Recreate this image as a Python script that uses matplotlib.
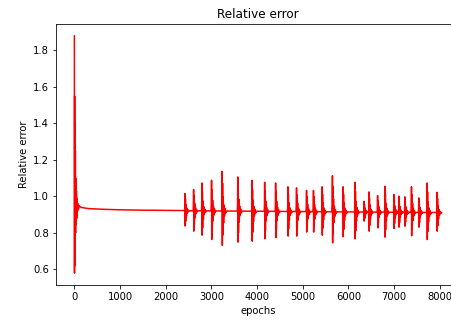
import numpy as np
import matplotlib
matplotlib.use("Agg")
import matplotlib.pyplot as plt

plt.rcParams["font.family"] = "DejaVu Sans"

# start of training: wild oscillation that settles quickly
early_epochs = [0, 3, 6, 10, 14, 18, 22, 27, 32, 38, 45, 52, 60, 70, 80, 90, 100, 120, 150]
early_values = [1.88, 0.58, 1.55, 0.62, 1.40, 0.74, 1.25, 0.80, 1.10, 0.85,
                1.03, 0.88, 0.99, 0.92, 0.96, 0.93, 0.95, 0.945, 0.94]

# slow plateau
plateau_epochs = [300, 600, 1000, 1500, 2000, 2380]
plateau_values = [0.934, 0.930, 0.927, 0.925, 0.924, 0.923]

# spike bursts later on: epoch, peak, trough
burst_epochs = [2422, 2611, 2793, 3004, 3236, 3578, 3891, 4167, 4407, 4676,
                4865, 5084, 5236, 5425, 5651, 5884, 6145, 6342, 6451, 6640,
                6800, 6996, 7105, 7236, 7382, 7542, 7724, 7942]
burst_peaks = [1.016, 1.038, 1.074, 1.089, 1.138, 1.107, 1.089, 1.078, 1.074, 1.053,
               1.047, 1.033, 1.033, 1.053, 1.114, 1.053, 1.078, 0.974, 1.025, 1.005,
               1.056, 1.011, 1.002, 0.998, 1.053, 0.992, 1.074, 1.023]
burst_troughs = [0.838, 0.810, 0.788, 0.764, 0.732, 0.750, 0.755, 0.768, 0.774, 0.783,
                 0.783, 0.805, 0.805, 0.788, 0.746, 0.779, 0.768, 0.865, 0.810, 0.828,
                 0.777, 0.825, 0.832, 0.837, 0.785, 0.832, 0.764, 0.810]
late_base_epochs = [2400, 8000]
late_base_values = [0.922, 0.912]
end_epoch = 7999

# build the polyline
xs = list(early_epochs) + list(plateau_epochs)
ys = list(early_values) + list(plateau_values)
for e, hi, lo in zip(burst_epochs, burst_peaks, burst_troughs):
    b = np.interp(e, late_base_epochs, late_base_values)
    up, dn = hi - b, b - lo
    xs += [e - 10, e - 4, e, e + 4, e + 10, e + 16, e + 24, e + 32,
           e + 42, e + 52, e + 64, e + 76, e + 100]
    ys += [b, b + 0.2 * up, b + up, b - dn, b + 0.7 * up, b - 0.7 * dn,
           b + 0.35 * up, b - 0.35 * dn, b + 0.15 * up, b - 0.15 * dn,
           b + 0.06 * up, b - 0.06 * dn, b]
xs.append(end_epoch)
ys.append(np.interp(end_epoch, late_base_epochs, late_base_values))

fig = plt.figure(figsize=(451 / 72, 329 / 72), dpi=72)
ax = fig.add_axes([56 / 451, 44 / 329, 404 / 451, 261 / 329])
ax.plot(xs, ys, color="red", linewidth=1.5)
ax.set_title("Relative error")
ax.set_xlabel("epochs")
ax.set_ylabel("Relative error")
ax.set_xticks(range(0, 8001, 1000))
ax.set_yticks([0.6, 0.8, 1.0, 1.2, 1.4, 1.6, 1.8])

fig.savefig("out.png", dpi=72)
